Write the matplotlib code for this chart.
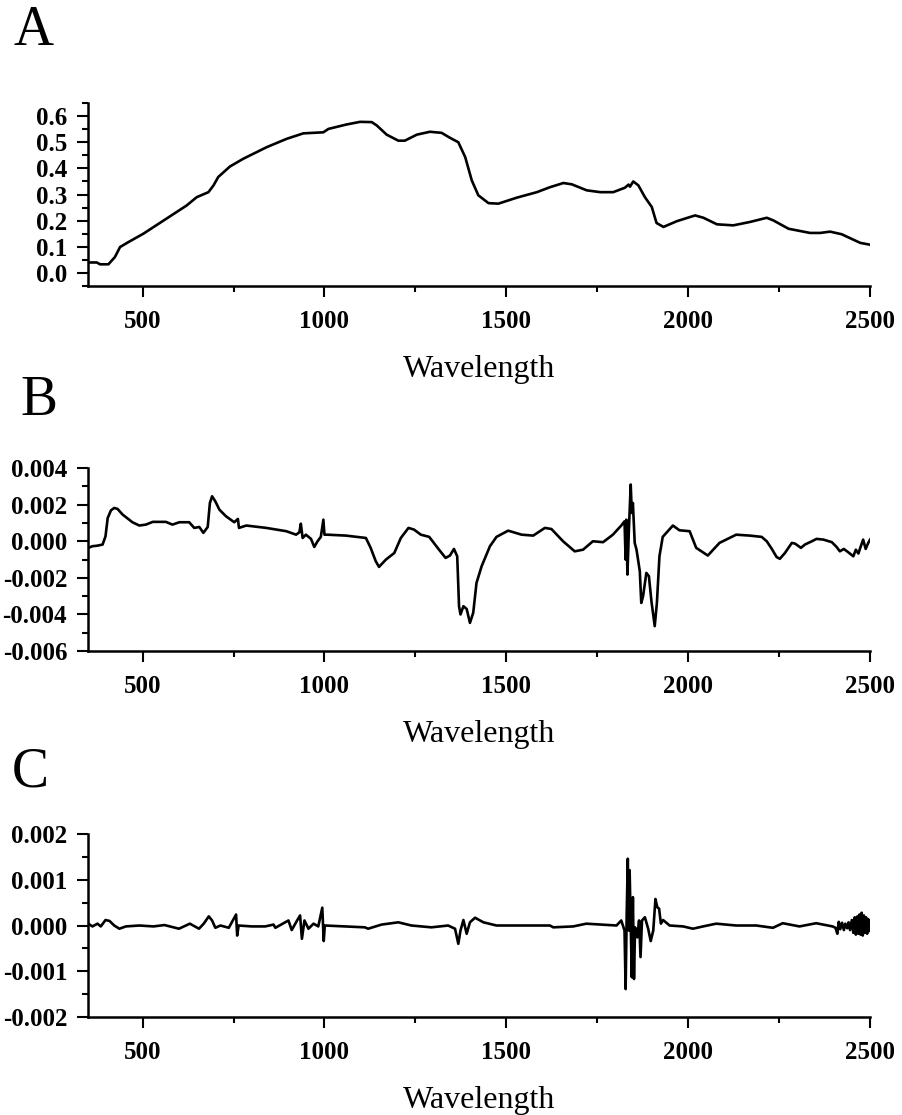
import matplotlib
matplotlib.use("Agg")
import matplotlib.pyplot as plt
from matplotlib.ticker import MultipleLocator, FormatStrFormatter

plt.rcParams['font.family'] = ['Liberation Serif', 'DejaVu Serif']

# panel A: reflectance spectrum
a_wl = [352, 374, 383, 406, 424, 438, 461, 502, 566, 621, 649, 681, 695, 708, 740,
        777, 841, 896, 942, 997, 1011, 1061, 1098, 1130, 1144, 1171, 1203, 1221, 1254,
        1290, 1322, 1345, 1368, 1387, 1405, 1423, 1451, 1478, 1529, 1584, 1620, 1657,
        1680, 1721, 1758, 1794, 1826, 1836, 1840, 1849, 1863, 1881, 1900, 1913, 1932,
        1969, 2019, 2042, 2079, 2124, 2170, 2216, 2234, 2276, 2335, 2363, 2390, 2422,
        2473, 2500]
a_val = [0.040, 0.040, 0.033, 0.033, 0.061, 0.099, 0.118, 0.150, 0.208, 0.258, 0.290,
         0.309, 0.335, 0.367, 0.407, 0.437, 0.481, 0.513, 0.534, 0.538, 0.551, 0.568,
         0.578, 0.577, 0.564, 0.529, 0.506, 0.506, 0.529, 0.540, 0.536, 0.517, 0.500,
         0.443, 0.354, 0.297, 0.267, 0.265, 0.288, 0.309, 0.328, 0.344, 0.339, 0.316,
         0.309, 0.309, 0.326, 0.338, 0.330, 0.350, 0.335, 0.290, 0.252, 0.191, 0.176,
         0.198, 0.220, 0.211, 0.186, 0.182, 0.195, 0.211, 0.201, 0.169, 0.153, 0.153,
         0.158, 0.148, 0.115, 0.108]

# panel B: first derivative
b_wl = [351, 362, 376, 390, 398, 404, 413, 422, 431, 445, 472, 491, 509, 528, 564, 582,
        601, 628, 642, 656, 667, 679, 685, 691, 700, 711, 729, 752, 762, 765, 785, 840,
        895, 922, 931, 935, 940, 949, 963, 972, 981, 990, 997, 1000, 1008, 1059, 1114,
        1127, 1141, 1150, 1169, 1192, 1210, 1231, 1246, 1265, 1288, 1315, 1333, 1345,
        1356, 1365, 1370, 1374, 1382, 1391, 1400, 1409, 1418, 1432, 1455, 1473, 1505,
        1542, 1574, 1606, 1624, 1656, 1688, 1711, 1738, 1766, 1793, 1816, 1825, 1828,
        1830, 1833, 1837, 1842, 1845, 1848, 1853, 1858, 1867, 1871, 1876, 1885, 1892,
        1899, 1908, 1914, 1921, 1930, 1944, 1958, 1976, 2004, 2022, 2054, 2086, 2132,
        2169, 2202, 2216, 2230, 2243, 2252, 2266, 2285, 2294, 2310, 2321, 2340, 2353,
        2372, 2395, 2408, 2417, 2428, 2440, 2454, 2461, 2468, 2474, 2481, 2488, 2495,
        2500]
b_val = [-0.00036, -0.00027, -0.00024, -0.00018, 0.00027, 0.00127, 0.00169, 0.00182,
         0.00177, 0.00146, 0.00104, 0.00086, 0.00091, 0.00106, 0.00106, 0.00091, 0.00104,
         0.00104, 0.00073, 0.00078, 0.00046, 0.00078, 0.00209, 0.00246, 0.00218, 0.00173,
         0.00137, 0.00104, 0.00122, 0.00073, 0.00086, 0.00073, 0.00055, 0.00036, 0.00049,
         0.00096, 0.00018, 0.00036, 0.00013, -0.00031, 0.0, 0.00024, 0.00118, 0.00036,
         0.00036, 0.00031, 0.00018, -0.00036, -0.00109, -0.00140, -0.00100, -0.00064,
         0.00018, 0.00073, 0.00064, 0.00036, 0.00024, -0.00046, -0.00091, -0.00078,
         -0.00042, -0.00082, -0.00355, -0.00400, -0.00355, -0.00370, -0.00446, -0.00391,
         -0.00228, -0.00137, -0.00027, 0.00024, 0.00058, 0.00036, 0.00031, 0.00073,
         0.00067, 0.0, -0.00055, -0.00046, 0.0, -0.00005, 0.00036, 0.00086, 0.00109,
         -0.00100, 0.00118, -0.00182, 0.00064, 0.00310, 0.00155, 0.00209, -0.00009,
         -0.00046, -0.00164, -0.00337, -0.00300, -0.00173, -0.00191, -0.00328, -0.00464,
         -0.00337, -0.00082, 0.00024, 0.00055, 0.00086, 0.00060, 0.00055, -0.00036,
         -0.00078, -0.00009, 0.00036, 0.00031, 0.00024, 0.0, -0.00042, -0.00086, -0.00096,
         -0.00064, -0.00009, -0.00013, -0.00036, -0.00018, 0.0, 0.00013, 0.00009, -0.00005,
         -0.00031, -0.00055, -0.00042, -0.00060, -0.00082, -0.00046, -0.00067, -0.00031,
         0.00009, -0.00042, -0.00009, 0.00009]

# panel C: second derivative
c_wl = [351, 362, 376, 385, 398, 409, 422, 436, 454, 491, 530, 560, 600, 630, 655, 668,
        682, 691, 700, 714, 737, 757, 760, 764, 800, 837, 860, 865, 901, 910, 924, 933,
        938, 945, 956, 970, 983, 994, 998, 1001, 1111, 1120, 1157, 1203, 1239, 1294, 1340,
        1359, 1368, 1374, 1382, 1391, 1400, 1414, 1437, 1473, 1620, 1629, 1684, 1720,
        1803, 1816, 1825, 1828, 1831, 1834, 1837, 1839, 1842, 1845, 1848, 1851, 1854,
        1860, 1865, 1869, 1873, 1881, 1890, 1897, 1904, 1910, 1915, 1920, 1925, 1931,
        1949, 1986, 2013, 2041, 2077, 2132, 2187, 2233, 2260, 2306, 2352, 2397, 2405,
        2410, 2414, 2418, 2423, 2428, 2432, 2437, 2441, 2445, 2450, 2454, 2458, 2461,
        2465, 2468, 2471, 2474, 2477, 2480, 2483, 2486, 2489, 2492, 2495, 2498, 2500]
c_val = [0.00004, -0.00002, 0.00004, -0.00002, 0.00012, 0.00010, 0.0, -0.00007, -0.00002,
         0.0, -0.00002, 0.00001, -0.00007, 0.00004, -0.00007, 0.00004, 0.00020, 0.00011,
         -0.00005, 0.0, -0.00005, 0.00024, -0.00022, 0.0, -0.00002, -0.00002, 0.00002,
         -0.00005, 0.00011, -0.00010, 0.00010, 0.00022, -0.00029, 0.00011, -0.00007,
         0.00004, -0.00002, 0.00039, -0.00034, 0.0, -0.00004, -0.00007, 0.00002, 0.00007,
         0.0, -0.00004, 0.0, -0.00007, -0.00040, -0.00011, 0.00012, -0.00018, 0.00007,
         0.00017, 0.00007, 0.0, 0.0, -0.00004, -0.00002, 0.00004, 0.0, 0.00011, -0.00011,
         -0.00139, 0.00026, 0.00146, -0.00011, 0.00121, 0.00004, -0.00113, 0.00062,
         -0.00117, -0.00004, -0.00026, 0.00011, -0.00069, 0.00011, 0.00018, -0.00007,
         -0.00034, -0.00011, 0.00058, 0.00040, 0.00037, 0.00004, 0.00012, 0.0, -0.00002,
         -0.00007, -0.00002, 0.00004, 0.0, 0.0, -0.00005, 0.00005, -0.00002, 0.00005,
         -0.00002, -0.00005, -0.00018, 0.00008, -0.00008, 0.00006, -0.00010, 0.00004,
         -0.00006, 0.00007, -0.00010, 0.00012, -0.00016, 0.00018, -0.00020, 0.00020,
         -0.00018, 0.00024, -0.00020, 0.00028, -0.00022, 0.00022, -0.00016, 0.00018,
         -0.00018, 0.00014, -0.00012, 0.00010]

panel_letters = ["A", "B", "C"]
panel_ylims = [(-0.05, 0.65), (-0.006, 0.004), (-0.002, 0.002)]
panel_ystep = [(0.1, 0.05), (0.002, 0.001), (0.001, 0.0005)]
panel_fmt = ['%.1f', '%.3f', '%.3f']
ax_bottoms = [0.7435, 0.4161, 0.0879]
letter_pos = [(0.0155, 0.9600), (0.023, 0.6275), (0.013, 0.2950)]

fig = plt.figure(figsize=(9.03, 11.15), dpi=100)

series = [(a_wl, a_val), (b_wl, b_val), (c_wl, c_val)]
for i, (wl, val) in enumerate(series):
    ax = fig.add_axes([0.0975, ax_bottoms[i], 0.866, 0.1641])
    ax.plot(wl, val, color='black', lw=1.9)
    ax.set_xlim(350, 2500)
    ax.set_ylim(*panel_ylims[i])
    ax.xaxis.set_major_locator(MultipleLocator(500))
    ax.xaxis.set_minor_locator(MultipleLocator(250))
    ax.yaxis.set_major_locator(MultipleLocator(panel_ystep[i][0]))
    ax.yaxis.set_minor_locator(MultipleLocator(panel_ystep[i][1]))
    ax.yaxis.set_major_formatter(FormatStrFormatter(panel_fmt[i]))
    for s in ['top', 'right']:
        ax.spines[s].set_visible(False)
    for s in ['left', 'bottom']:
        ax.spines[s].set_linewidth(1.8)
    ax.tick_params(which='major', length=8, width=1.5, labelsize=18)
    ax.tick_params(axis='x', which='major', pad=9)
    ax.tick_params(axis='y', which='major', pad=7)
    ax.tick_params(which='minor', length=4.5, width=1.5)
    for lab in ax.get_xticklabels() + ax.get_yticklabels():
        lab.set_fontweight('bold')
    ax.set_xlabel('Wavelength', fontsize=23, labelpad=16)
    fig.text(letter_pos[i][0], letter_pos[i][1], panel_letters[i],
             fontsize=40, va='baseline', ha='left')

fig.savefig('out.png', dpi=100)
